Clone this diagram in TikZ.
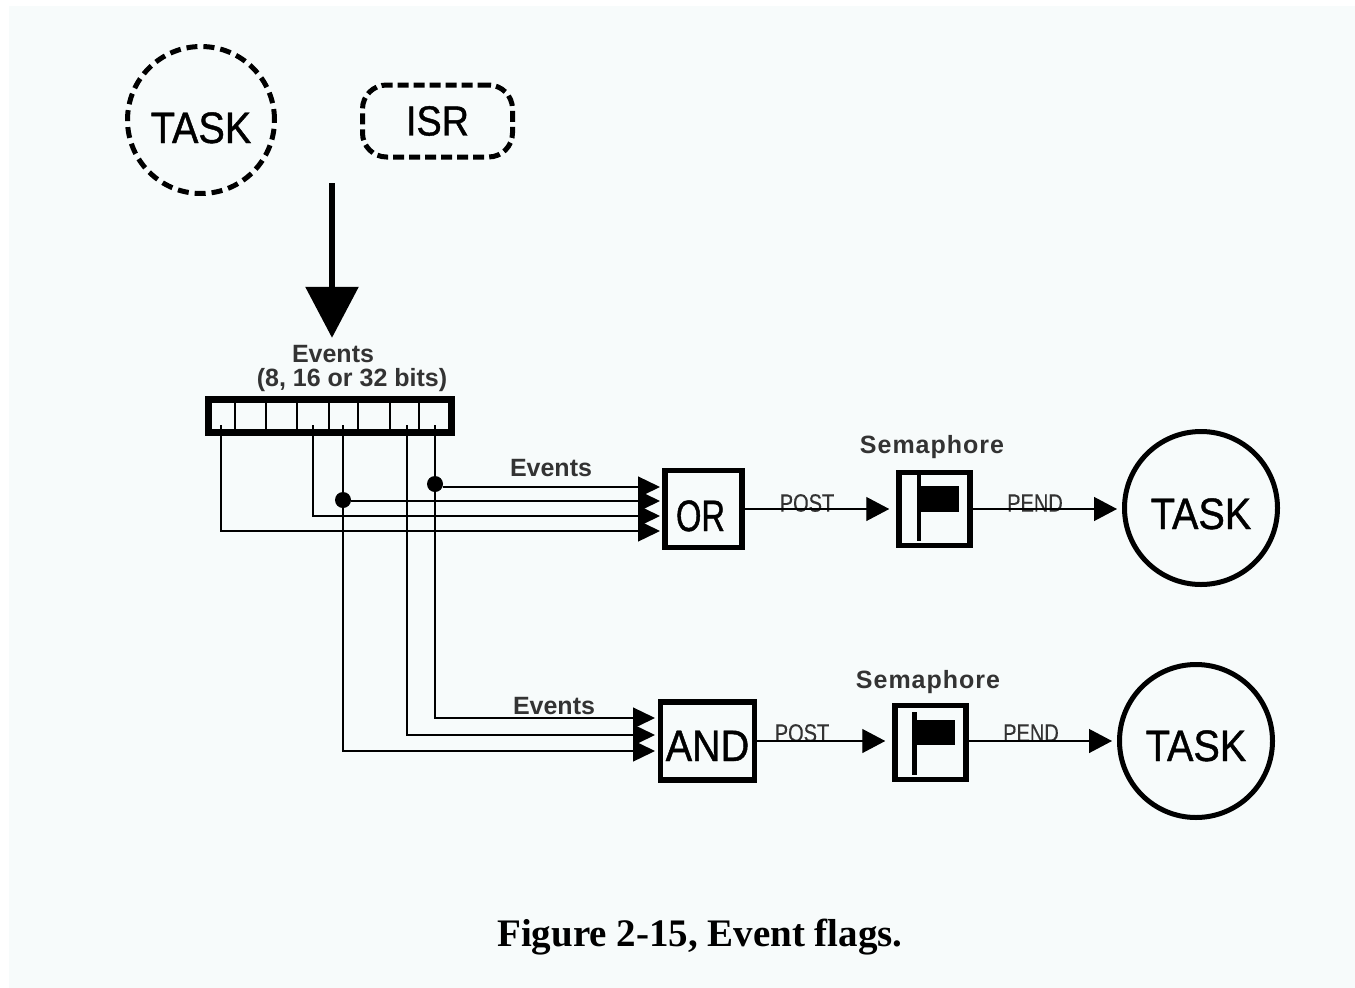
\documentclass[tikz,border=0pt]{standalone}
\usepackage{fontspec}
\setmainfont{Liberation Sans}
\newfontfamily\capfont{Liberation Serif}
\newfontfamily\narrowfont[FakeStretch=0.9,FakeBold=1]{Liberation Sans}
\newfontfamily\tightfont[FakeStretch=0.74,FakeBold=1]{Liberation Sans}
\newfontfamily\postfont[FakeStretch=0.8,FakeBold=0.3]{Liberation Sans}
\newfontfamily\semfont[LetterSpace=4]{Liberation Sans Bold}
\usetikzlibrary{arrows.meta,positioning}
\definecolor{panel}{HTML}{F7FBFB}
\definecolor{darkgray}{HTML}{333333}
\tikzset{
  lowered/.style={text height=#1,text depth=0pt},
  taskcircle/.style={circle,draw,line width=5pt,minimum size=153pt,inner sep=0pt,font=\narrowfont\fontsize{44}{44}\selectfont},
  logicbox/.style={rectangle,draw,line width=5.5pt,inner sep=0pt,font=\narrowfont\fontsize{44}{44}\selectfont},
  flagbox/.style={rectangle,draw,line width=5.5pt,inner sep=0pt,minimum width=71pt,minimum height=73pt},
  smalltext/.style={inner sep=0pt,text=darkgray,font=\bfseries\fontsize{25}{25}\selectfont},
  semtext/.style={inner sep=0pt,text=darkgray,font=\semfont\fontsize{25}{25}\selectfont},
  flowtext/.style={inner sep=0pt,text=darkgray,font=\postfont\fontsize{25}{25}\selectfont},
  flow/.style={-{Triangle[length=22pt,width=21pt]},line width=1.3pt},
  flowmid/.style={-{Triangle[length=23pt,width=24pt]},line width=1.3pt},
  wire/.style={line width=1.3pt},
  tapdot/.style={circle,fill=black,minimum size=16pt,inner sep=0pt},
}
\begin{document}
\begin{tikzpicture}[x=1pt,y=-1pt]
  \useasboundingbox (0,0) rectangle (1355,988);
  \fill[panel] (9,6) rectangle (1355,988);
  % sources
  \node[taskcircle,dash pattern=on 11pt off 6pt,minimum size=147pt,lowered=46pt] (tasksrc) at (201,120) {TASK};
  \node[draw,rounded corners=24pt,line width=5pt,dash pattern=on 11pt off 5pt,minimum width=150pt,minimum height=72pt,inner sep=0pt,font=\narrowfont\fontsize{42}{42}\selectfont] (isrsrc) at (437.5,121) {ISR};
  \coordinate (postin) at (332,183);
  \node[inner sep=0pt,minimum size=0pt] (regtop) at (332,338) {};
  \draw[-{Triangle[length=51pt,width=52pt]},line width=6pt] (postin) -- (regtop);
  \node[smalltext] (eventslbl) at (333,354) {Events};
  \node[smalltext] (bitslbl) at (352,380) {(8, 16 or 32 bits)};
  % register
  \node[rectangle,draw,line width=7pt,minimum width=243.5pt,minimum height=32.5pt,inner sep=0pt] (flags) at (329.75,415.75) {};
  \draw[line width=1.5pt] (235,403) -- (235,429);
  \draw[line width=1.5pt] (266,403) -- (266,429);
  \draw[line width=1.5pt] (297,403) -- (297,429);
  \draw[line width=1.5pt] (329,403) -- (329,429);
  \draw[line width=1.5pt] (358,403) -- (358,429);
  \draw[line width=1.5pt] (390,403) -- (390,429);
  \draw[line width=1.5pt] (419,403) -- (419,429);
  \coordinate (bita) at (221,425);
  \coordinate (bitb) at (313,425);
  \coordinate (bitc) at (343,425);
  \coordinate (bitd) at (407,425);
  \coordinate (bite) at (435,425);
  % or branch
  \node[logicbox,minimum width=77pt,minimum height=77pt,lowered=44pt,font=\tightfont\fontsize{44}{44}\selectfont] (orbox) at (703.5,509) {\hspace*{-6pt}OR};
  \node[flagbox] (semor) at (934.5,509) {};
  \node[taskcircle,lowered=42pt] (taskor) at (1201,508) {TASK};
  \node[smalltext] (eventsor) at (551,468) {Events};
  \node[semtext] (semlblor) at (932,447) {Semaphore};
  \node[flowtext] (postor) at (807,503) {POST};
  \node[flowtext] (pendor) at (1035,503) {PEND};
  \node[tapdot] (dotor) at (435,484) {};
  \node[tapdot] (dotand) at (343,500) {};
  \coordinate (orina) at (660,487);
  \coordinate (orinb) at (660,501);
  \coordinate (orinc) at (660,516);
  \coordinate (orind) at (660,531);
  \draw[flow] (dotor.east |- orina) -- (orina);
  \draw[flow] (dotand.east |- orinb) -- (orinb);
  \draw[flow] (bitb) |- (orinc);
  \draw[flow] (bita) |- (orind);
  \draw[flowmid,shorten >=7pt] (orbox.east) -- (semor.west);
  \draw[flowmid,shorten >=5pt] (semor.east) -- (taskor.west |- semor.east);
  \fill (916.5,475) rectangle (921,541);
  \fill (921,486) rectangle (959,512);
  % and branch
  \node[logicbox,minimum width=94pt,minimum height=78pt,lowered=40pt] (andbox) at (707.5,741) {AND};
  \node[flagbox,minimum height=74pt] (semand) at (930.5,742.5) {};
  \node[taskcircle,lowered=40pt] (taskand) at (1196,741) {TASK};
  \node[smalltext] (eventsand) at (554,706) {Events};
  \node[semtext] (semlbland) at (928,682) {Semaphore};
  \node[flowtext] (postand) at (802,733) {POST};
  \node[flowtext] (pendand) at (1031,733) {PEND};
  \coordinate (andina) at (655,718);
  \coordinate (andinb) at (655,735);
  \coordinate (andinc) at (655,751);
  \draw[wire] (bite) -- (dotor);
  \draw[wire] (bitc) -- (dotand);
  \draw[flow] (dotor) |- (andina);
  \draw[flow] (bitd) |- (andinb);
  \draw[flow] (dotand) |- (andinc);
  \draw[flowmid,shorten >=7pt] (andbox.east) -- (semand.west |- andbox.east);
  \draw[flowmid,shorten >=5pt] (semand.east |- taskand.west) -- (taskand.west);
  \fill (912,712) rectangle (917,775);
  \fill (917,720) rectangle (955,745);
  % caption
  \node[inner sep=0pt,font=\capfont\bfseries\fontsize{39}{39}\selectfont] (figcap) at (700,937) {Figure 2-15, Event flags.};
\end{tikzpicture}
\end{document}
